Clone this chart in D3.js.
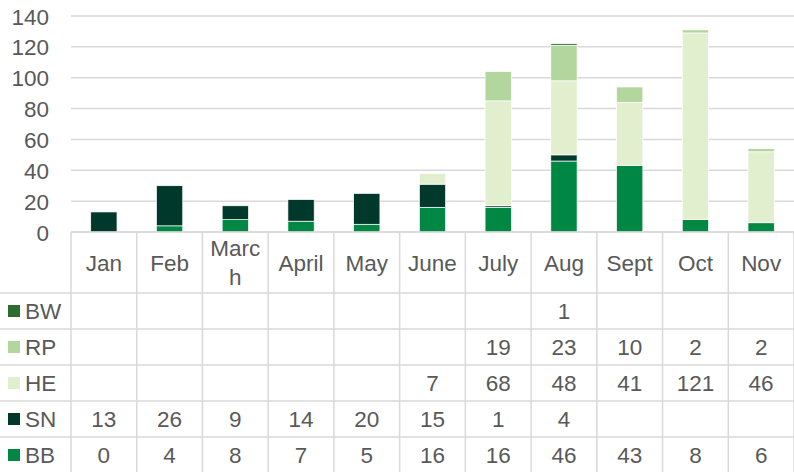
<!DOCTYPE html>
<html>
<head>
<meta charset="utf-8">
<script src="https://cdn.jsdelivr.net/npm/d3@7"></script>
<style>
  body { margin: 0; background: #fff; }
  svg text { font-family: "Liberation Sans", Arial, sans-serif; fill: #595959; }
</style>
</head>
<body>
<svg width="794" height="472"></svg>
<script>
// Data
let months = ['Jan', 'Feb', 'March', 'April', 'May', 'June', 'July', 'Aug', 'Sept', 'Oct', 'Nov']
let seriesNames = ['BB', 'SN', 'HE', 'RP', 'BW']   // stacking order, bottom first
let BB = [0, 4, 8, 7, 5, 16, 16, 46, 43, 8, 6]
let SN = [13, 26, 9, 14, 20, 15, 1, 4, null, null, null]
let HE = [null, null, null, null, null, 7, 68, 48, 41, 121, 46]
let RP = [null, null, null, null, null, null, 19, 23, 10, 2, 2]
let BW = [null, null, null, null, null, null, null, 1, null, null, null]
let yTicks = [0, 20, 40, 60, 80, 100, 120, 140]

let seriesValues = { BB, SN, HE, RP, BW }
let colors = {
  BB: '#008744',
  SN: '#00392b',
  HE: '#e2efcf',
  RP: '#b3d69e',
  BW: '#2e6b2e'
}

let margin = { left: 71, top: 16, right: 0 }
let W = 794, H = 472
let baseY = 232
let headerH = 61, rowH = 36
let fontSize = 22.5

let svg = d3.select('svg')

let rows = months.map((m, i) => {
  let r = { month: m }
  seriesNames.forEach(s => r[s] = seriesValues[s][i] || 0)
  return r
})

let x = d3.scaleBand()
  .domain(months)
  .range([margin.left, W - margin.right])
  .paddingInner(0.6)
  .paddingOuter(0.3)

let y = d3.scaleLinear()
  .domain([0, 140])
  .range([baseY, margin.top])

// Gridlines
svg.append('g')
  .selectAll('line')
  .data(yTicks)
  .enter()
  .append('line')
  .attr('x1', margin.left)
  .attr('x2', W)
  .attr('y1', d => y(d))
  .attr('y2', d => y(d))
  .attr('stroke', '#d9d9d9')
  .attr('stroke-width', 1.5)

// Y axis labels
let yAxis = d3.axisLeft(y).tickValues(yTicks).tickSize(0).tickPadding(0)
svg.append('g')
  .attr('transform', 'translate(49,0)')
  .call(yAxis)
  .call(g => g.select('.domain').remove())
  .selectAll('text')
  .style('font-size', fontSize + 'px')
  .attr('fill', '#595959')
  .attr('dy', '0.36em')

// Stacked bars
let stack = d3.stack().keys(seriesNames)
let layers = stack(rows)

svg.append('g')
  .selectAll('g')
  .data(layers)
  .enter()
  .append('g')
  .attr('fill', d => colors[d.key])
  .selectAll('rect')
  .data(d => d.filter(p => p[1] - p[0] > 0))
  .enter()
  .append('rect')
  .attr('x', d => x(d.data.month))
  .attr('width', x.bandwidth())
  .attr('y', d => y(d[1]))
  .attr('height', d => y(d[0]) - y(d[1]))
  .attr('stroke', '#ffffff')
  .attr('stroke-width', 0.7)

// Data table
let tableRows = seriesNames.slice().reverse()   // BW on top
let tableBottom = baseY + headerH + rowH * tableRows.length
let table = svg.append('g').attr('class', 'table')
let lineColor = '#d9d9d9'

// horizontal lines
table.append('line')
  .attr('x1', margin.left).attr('x2', W)
  .attr('y1', baseY).attr('y2', baseY)
  .attr('stroke', lineColor).attr('stroke-width', 1.5)

table.selectAll('.hline')
  .data(tableRows.map((d, i) => baseY + headerH + i * rowH))
  .enter()
  .append('line')
  .attr('class', 'hline')
  .attr('x1', 0).attr('x2', W)
  .attr('y1', d => d).attr('y2', d => d)
  .attr('stroke', lineColor).attr('stroke-width', 1.5)

// vertical lines
let step = x.step()
let bounds = d3.range(months.length + 1).map(i => margin.left + i * step)
table.selectAll('.vline')
  .data(bounds)
  .enter()
  .append('line')
  .attr('class', 'vline')
  .attr('x1', d => d).attr('x2', d => d)
  .attr('y1', baseY).attr('y2', tableBottom)
  .attr('stroke', lineColor).attr('stroke-width', 1.5)

// month headers (wrapped when too wide)
let header = table.selectAll('.month')
  .data(months)
  .enter()
  .append('text')
  .attr('class', 'month')
  .attr('text-anchor', 'middle')
  .style('font-size', fontSize + 'px')

header.each(function (m) {
  let t = d3.select(this)
  let cx = x(m) + x.bandwidth() / 2
  let maxW = step - 6
  t.text(m)
  let lines = [m]
  if (this.getComputedTextLength() > maxW) {
    let cur = ''
    lines = []
    for (let ch of m) {
      t.text(cur + ch)
      if (this.getComputedTextLength() > maxW && cur) {
        lines.push(cur)
        cur = ch
      } else {
        cur += ch
      }
    }
    lines.push(cur)
  }
  t.text(null)
  let lh = 29
  let y0 = baseY + headerH / 2 - (lines.length - 1) * lh / 2
  lines.forEach((ln, i) => {
    t.append('tspan')
      .attr('x', cx)
      .attr('y', y0 + i * lh)
      .attr('dy', '0.36em')
      .text(ln)
  })
})

// series rows
let rowG = table.selectAll('.row')
  .data(tableRows)
  .enter()
  .append('g')
  .attr('class', 'row')
  .attr('transform', (d, i) => `translate(0,${baseY + headerH + i * rowH + rowH / 2})`)

rowG.append('rect')
  .attr('x', 8).attr('y', -6)
  .attr('width', 12).attr('height', 12)
  .attr('fill', d => colors[d])

rowG.append('text')
  .attr('x', 25)
  .attr('dy', '0.36em')
  .style('font-size', fontSize + 'px')
  .text(d => d)

rowG.selectAll('.val')
  .data(s => seriesValues[s].map((v, i) => ({ v, m: months[i] })).filter(d => d.v != null))
  .enter()
  .append('text')
  .attr('class', 'val')
  .attr('x', d => x(d.m) + x.bandwidth() / 2)
  .attr('dy', '0.36em')
  .attr('text-anchor', 'middle')
  .style('font-size', fontSize + 'px')
  .text(d => d.v)
</script>
</body>
</html>
